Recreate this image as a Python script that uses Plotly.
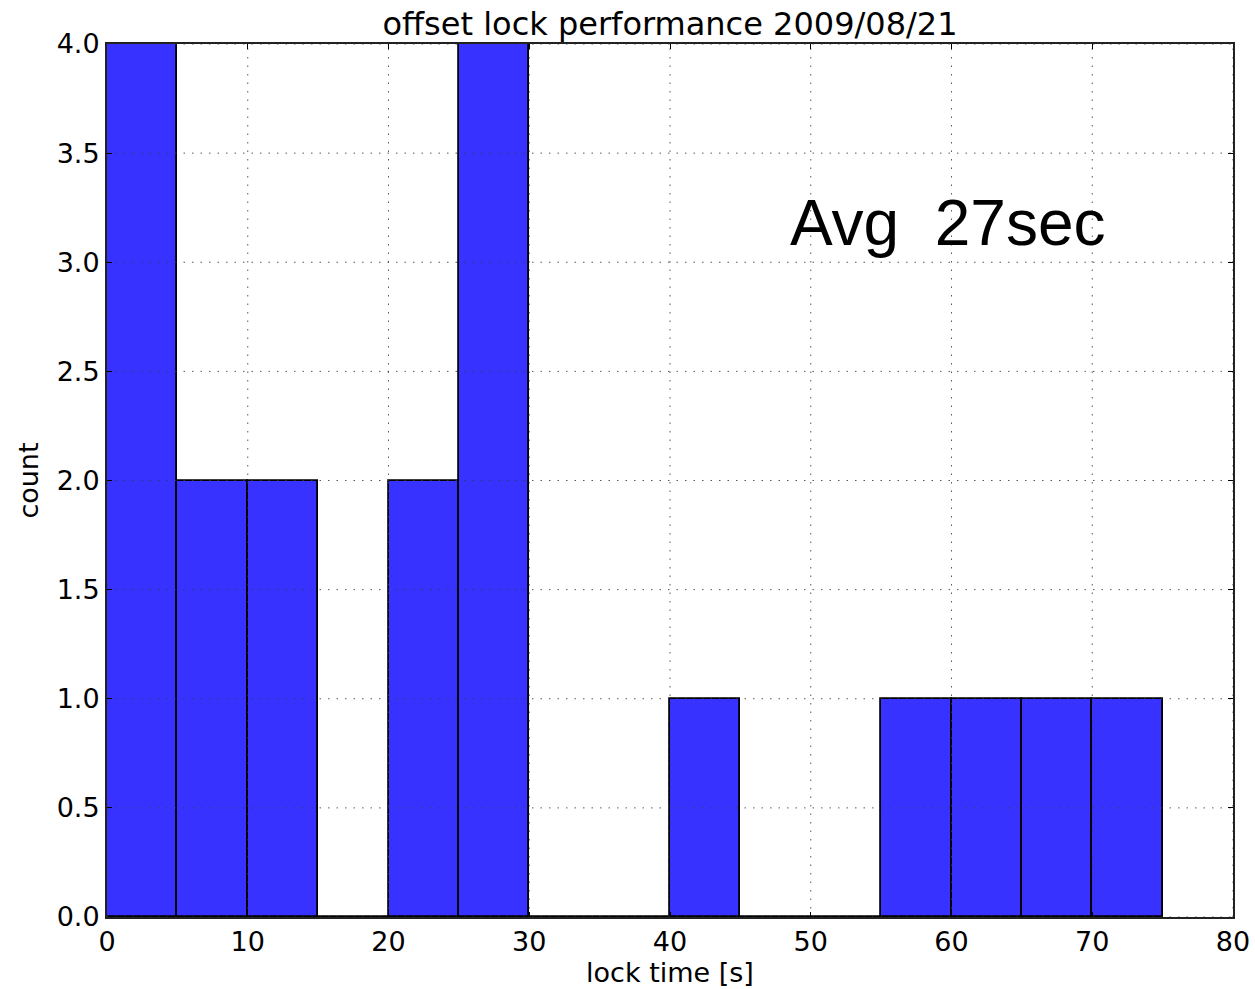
import plotly.graph_objects as go

# Data
bin_edges = [0, 5, 10, 15, 20, 25, 30, 35, 40, 45, 50, 55, 60, 65, 70, 75]
counts = [4, 2, 2, 0, 2, 4, 0, 0, 1, 0, 0, 1, 1, 1, 1]
x_ticks = [0, 10, 20, 30, 40, 50, 60, 70, 80]
y_ticks = [0.0, 0.5, 1.0, 1.5, 2.0, 2.5, 3.0, 3.5, 4.0]
title_text = "offset lock performance 2009/08/21"
x_label = "lock time [s]"
y_label = "count"
note_text = "Avg\u00a0 27sec"
x_range = [0, 80]
y_range = [0, 4]

centers = [(bin_edges[i] + bin_edges[i + 1]) / 2 for i in range(len(counts))]
widths = [bin_edges[i + 1] - bin_edges[i] for i in range(len(counts))]

fig = go.Figure()
fig.add_trace(go.Bar(
    x=centers, y=counts, width=widths,
    marker=dict(color="rgb(55,50,255)", line=dict(color="black", width=1.8)),
    showlegend=False, hoverinfo="x+y",
))

# dotted grid drawn above the bars (as in matplotlib output)
gx, gy = [], []
for t in x_ticks:
    gx += [t, t, None]
    gy += [y_range[0], y_range[1], None]
for t in y_ticks:
    gx += [x_range[0], x_range[1], None]
    gy += [t, t, None]
fig.add_trace(go.Scatter(
    x=gx, y=gy, mode="lines",
    line=dict(color="rgba(60,60,60,0.85)", width=1, dash="1.5px,7px"),
    showlegend=False, hoverinfo="skip",
))

fig.add_annotation(
    x=59.7, y=3.18, xref="x", yref="y",
    text=note_text, showarrow=False,
    font=dict(family="Liberation Sans, Arial", size=64, color="black"),
    xanchor="center", yanchor="middle",
)

font_main = "DejaVu Sans"
fig.update_layout(
    width=1255, height=989,
    margin=dict(l=107, r=22, t=44, b=72),
    paper_bgcolor="white", plot_bgcolor="white",
    font=dict(family=font_main, size=27, color="black"),
    title=dict(text=title_text, x=0.5, xanchor="center", xref="paper",
               y=1 - 24 / 989, yanchor="middle",
               font=dict(family=font_main, size=32, color="black")),
    bargap=0,
)
fig.update_xaxes(
    automargin=False,
    range=x_range, tickvals=x_ticks, ticktext=[str(t) for t in x_ticks],
    showgrid=False, zeroline=False,
    showline=True, linecolor="#222", linewidth=2, mirror="ticks",
    ticks="inside", ticklen=5, tickcolor="black", tickwidth=1,
    tickfont=dict(size=27), title=dict(text=x_label, font=dict(size=27), standoff=4),
    layer="above traces",
)
fig.update_yaxes(
    automargin=False,
    range=y_range, tickvals=y_ticks, ticktext=[f"{t:.1f}" for t in y_ticks],
    showgrid=False, zeroline=False,
    showline=True, linecolor="#222", linewidth=2, mirror="ticks",
    ticks="inside", ticklen=5, tickcolor="black", tickwidth=1,
    tickfont=dict(size=27), title=dict(text=y_label, font=dict(size=27), standoff=10),
    layer="above traces",
)

fig.write_html("out.html")
